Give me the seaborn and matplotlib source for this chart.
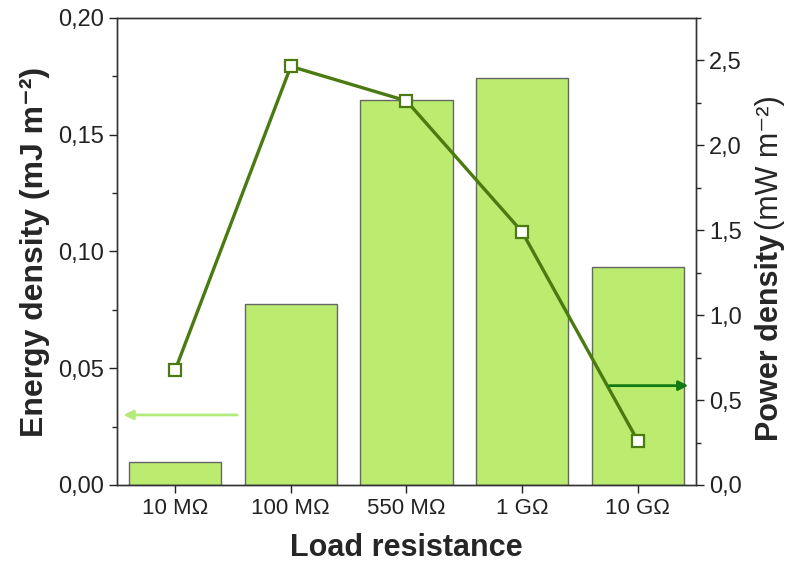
import numpy as np
import pandas as pd
import matplotlib
matplotlib.use("Agg")
import matplotlib.pyplot as plt
from matplotlib.ticker import MultipleLocator, FuncFormatter
import seaborn as sns

# data
resistance = ["10 MΩ", "100 MΩ", "550 MΩ", "1 GΩ", "10 GΩ"]
energy_density = [0.0100, 0.0776, 0.1650, 0.1742, 0.0934]   # mJ m-2 (bars, left axis)
power_density = [0.676, 2.465, 2.262, 1.490, 0.259]        # mW m-2 (line, right axis)

bar_color = "#bbeb6f"
line_color = "#4a7a10"

sns.set_style("ticks")
plt.rcParams["font.family"] = ["Liberation Sans", "DejaVu Sans"]
plt.rcParams["axes.linewidth"] = 1.0

df = pd.DataFrame({"resistance": resistance, "energy": energy_density,
                   "power": power_density, "pos": np.arange(len(resistance))})

fig = plt.figure(figsize=(7.87, 5.73), dpi=100)
ax = fig.add_axes([0.149, 0.1536, 0.735, 0.815])

sns.barplot(data=df, x="resistance", y="energy", color=bar_color, saturation=1,
            edgecolor="#666666", linewidth=1.0, width=0.8, ax=ax)
ax.set_xlim(-0.5, 4.5)
ax.set_ylim(0, 0.20)
ax.yaxis.set_major_locator(MultipleLocator(0.05))
ax.yaxis.set_minor_locator(MultipleLocator(0.025))
ax.yaxis.set_major_formatter(FuncFormatter(lambda v, p: f"{v:.2f}".replace(".", ",")))
ax.tick_params(axis="y", which="major", labelsize=17, length=6, width=1, colors="#222222")
ax.tick_params(axis="x", which="major", labelsize=16, length=6, width=1, colors="#222222")
ax.tick_params(axis="y", which="minor", length=3.5, width=1)
ax.set_xlabel("Load resistance", fontsize=22, fontweight="bold", labelpad=10)
ax.set_ylabel("Energy density (mJ m⁻²)", fontsize=23, fontweight="bold", labelpad=6)

ax2 = ax.twinx()
sns.lineplot(data=df, x="pos", y="power", color=line_color, linewidth=2.4,
             marker="s", markersize=9, markerfacecolor="white",
             markeredgecolor=line_color, markeredgewidth=1.6, ax=ax2)
ax2.set_ylim(0, 2.75)
ax2.yaxis.set_major_locator(MultipleLocator(0.5))
ax2.yaxis.set_minor_locator(MultipleLocator(0.25))
ax2.yaxis.set_major_formatter(FuncFormatter(lambda v, p: f"{v:.1f}".replace(".", ",")))
ax2.tick_params(axis="y", which="major", labelsize=17, length=6, width=1, colors="#222222")
ax2.tick_params(axis="y", which="minor", length=3.5, width=1)
ax2.set_ylabel("")
ax2.set_xlabel("")
for a in (ax, ax2):
    for s in a.spines.values():
        s.set_visible(True)
        s.set_color("#333333")

# right axis label: bold name + regular units
fig.text(0.979, 0.592, "Power density", rotation=90, fontsize=22, fontweight="bold",
         ha="center", va="top")
fig.text(0.979, 0.598, "(mW m⁻²)", rotation=90, fontsize=22,
         ha="center", va="bottom")

# axis-indicating arrows
ax.annotate("", xy=(-0.47, 0.030), xytext=(0.56, 0.030),
            arrowprops=dict(arrowstyle="-|>", color="#b4ea7c", lw=2, mutation_scale=14))
ax2.annotate("", xy=(4.46, 0.585), xytext=(3.73, 0.585),
             arrowprops=dict(arrowstyle="-|>", color="#127a12", lw=2, mutation_scale=14))

fig.savefig("out.png", dpi=100)
